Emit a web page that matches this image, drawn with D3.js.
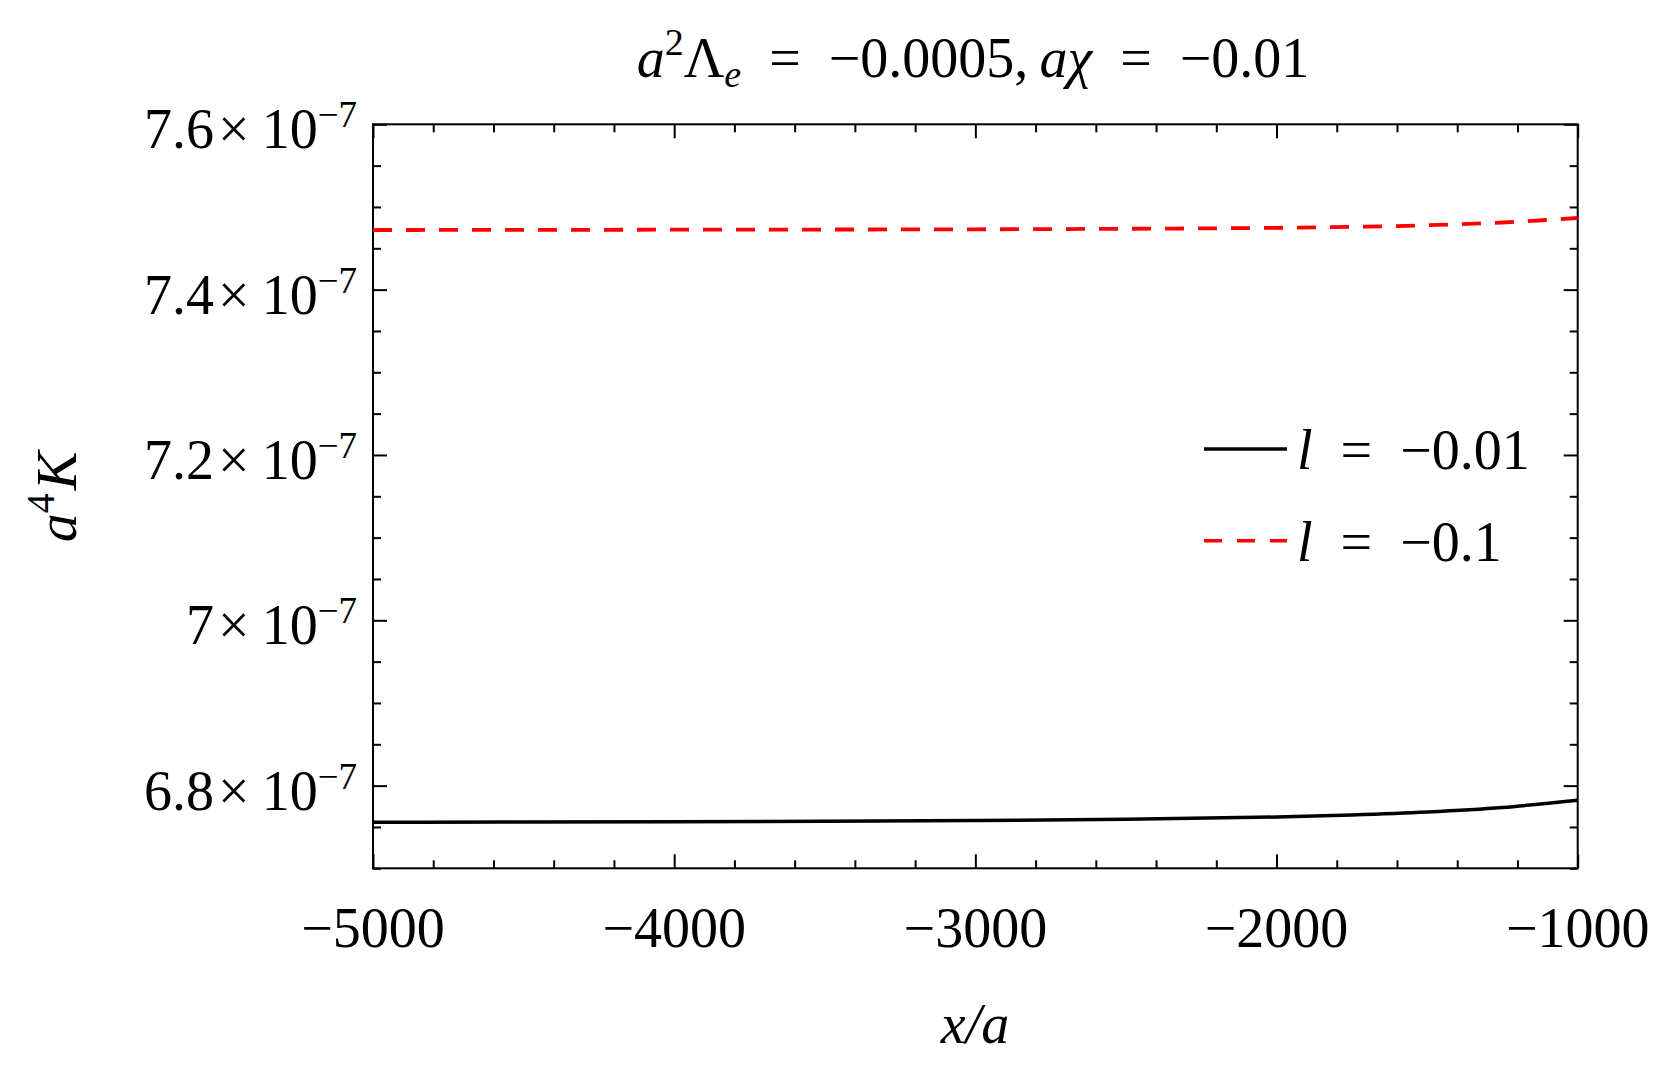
<!DOCTYPE html>
<html>
<head>
<meta charset="utf-8">
<script src="https://cdn.jsdelivr.net/npm/d3@7"></script>
<style>
  html, body { margin: 0; padding: 0; background: #fff; }
  text { font-family: "Liberation Serif", "Times New Roman", serif; fill: #000; }
  .it { font-style: italic; }
</style>
</head>
<body>
<svg id="chart" width="1661" height="1080"></svg>
<script>
// x/a sample positions and a^4 K values
const xValues = [-5000, -4500, -4000, -3500, -3000, -2500, -2000, -1750, -1500, -1250, -1000];
const kSmallL = [6.7557e-7, 6.7560e-7, 6.7564e-7, 6.7569e-7, 6.7577e-7, 6.7592e-7, 6.7620e-7, 6.7645e-7, 6.7681e-7, 6.7736e-7, 6.7824e-7];
const kLargeL = [7.4721e-7, 7.4723e-7, 7.4725e-7, 7.4727e-7, 7.4730e-7, 7.4736e-7, 7.4748e-7, 7.4759e-7, 7.4779e-7, 7.4812e-7, 7.4867e-7];

const seriesNames = ["\u22120.01", "\u22120.1"];
const xTicks = [-5000, -4000, -3000, -2000, -1000];
const yTicks = [7.6e-7, 7.4e-7, 7.2e-7, 7.0e-7, 6.8e-7];
const yTickMantissa = ["7.6", "7.4", "7.2", "7", "6.8"];

const svg = d3.select("#chart"),
      mLeft = 373, mRight = 1577.7, mTop = 124.3, mBottom = 868.3;

const x = d3.scaleLinear().domain([-5000, -1000]).range([mLeft, mRight]);
const y = d3.scaleLinear().domain([6.7e-7, 7.6e-7]).range([mBottom, mTop]);

const xMinor = d3.range(-5000, -999, 200).filter(v => !xTicks.includes(v));
const yMinor = d3.range(0, 19).map(i => 6.7e-7 + i * 0.05e-7)
  .filter(v => !yTicks.some(t => Math.abs(t - v) < 1e-10));

function tickGroup(axis, tr) {
  const g = svg.append("g").attr("transform", tr).call(axis);
  g.select(".domain").remove();
  g.selectAll(".tick line").attr("stroke", "#000").attr("stroke-width", 2);
  g.selectAll(".tick text").remove();
  return g;
}

// inward ticks on all four sides
tickGroup(d3.axisBottom(x).tickValues(xTicks).tickSize(-14), `translate(0,${mBottom})`);
tickGroup(d3.axisBottom(x).tickValues(xMinor).tickSize(-8), `translate(0,${mBottom})`);
tickGroup(d3.axisTop(x).tickValues(xTicks).tickSize(-14), `translate(0,${mTop})`);
tickGroup(d3.axisTop(x).tickValues(xMinor).tickSize(-8), `translate(0,${mTop})`);
tickGroup(d3.axisLeft(y).tickValues(yTicks).tickSize(-14), `translate(${mLeft},0)`);
tickGroup(d3.axisLeft(y).tickValues(yMinor).tickSize(-8), `translate(${mLeft},0)`);
tickGroup(d3.axisRight(y).tickValues(yTicks).tickSize(-14), `translate(${mRight},0)`);
tickGroup(d3.axisRight(y).tickValues(yMinor).tickSize(-8), `translate(${mRight},0)`);

svg.append("rect")
  .attr("x", mLeft).attr("y", mTop)
  .attr("width", mRight - mLeft).attr("height", mBottom - mTop)
  .attr("fill", "none").attr("stroke", "#000").attr("stroke-width", 2);

// x tick labels
svg.selectAll(".xlab")
  .data(xTicks)
  .enter()
  .append("text")
  .attr("class", "xlab")
  .attr("x", d => x(d))
  .attr("y", 947)
  .attr("text-anchor", "middle")
  .attr("font-size", 56)
  .text(d => d3.format("d")(d).replace("-", "\u2212"));

// y tick labels  m×10^-7
const ylab = svg.selectAll(".ylab")
  .data(yTicks)
  .enter()
  .append("text")
  .attr("class", "ylab")
  .attr("x", 357)
  .attr("y", d => y(d) + 24)
  .attr("text-anchor", "end")
  .attr("font-size", 56);
ylab.append("tspan").text((d, i) => yTickMantissa[i]);
ylab.append("tspan").attr("dx", 4).text("\u00d7");
ylab.append("tspan").attr("dx", 12).text("10");
ylab.append("tspan").attr("dy", -21).attr("font-size", 37).text("\u22127");

// curves
const line = d3.line()
  .x(d => x(d[0]))
  .y(d => y(d[1]))
  .curve(d3.curveMonotoneX);

svg.append("path")
  .datum(xValues.map((v, i) => [v, kSmallL[i]]))
  .attr("d", line)
  .attr("fill", "none")
  .attr("stroke", "#000")
  .attr("stroke-width", 3.5);

svg.append("path")
  .datum(xValues.map((v, i) => [v, kLargeL[i]]))
  .attr("d", line)
  .attr("fill", "none")
  .attr("stroke", "#ff0000")
  .attr("stroke-width", 3.8)
  .attr("stroke-dasharray", "19,14");

// legend
const legend = svg.append("g");
const styles = [{ color: "#000", dash: null }, { color: "#ff0000", dash: "18,15" }];
seriesNames.forEach((name, i) => {
  const ly = 449 + i * 91.7;
  legend.append("line")
    .attr("x1", 1204).attr("x2", 1287)
    .attr("y1", ly).attr("y2", ly)
    .attr("stroke", styles[i].color)
    .attr("stroke-width", 3.6)
    .attr("stroke-dasharray", styles[i].dash);
  const t = legend.append("text")
    .attr("x", 1297)
    .attr("y", ly + 20)
    .attr("font-size", 56);
  t.append("tspan").attr("class", "it").text("l");
  t.append("tspan").text("\u2002=\u2002" + name);
});

// title
const title = svg.append("text")
  .attr("x", 973)
  .attr("y", 77)
  .attr("text-anchor", "middle")
  .attr("font-size", 56);
title.append("tspan").attr("class", "it").text("a");
title.append("tspan").attr("dy", -22).attr("font-size", 38).text("2");
title.append("tspan").attr("dy", 22).text("\u039b");
title.append("tspan").attr("class", "it").attr("dy", 10).attr("font-size", 38).text("e");
title.append("tspan").attr("dy", -10).text("\u2002=\u2002\u22120.0005,\u2009");
title.append("tspan").attr("class", "it").text("a\u03c7");
title.append("tspan").text("\u2002=\u2002\u22120.01");

// axis titles
svg.append("text")
  .attr("x", 975)
  .attr("y", 1043)
  .attr("text-anchor", "middle")
  .attr("font-size", 56)
  .attr("class", "it")
  .text("x/a");

const yt = svg.append("text")
  .attr("transform", "translate(76,497) rotate(-90)")
  .attr("text-anchor", "middle")
  .attr("font-size", 58);
yt.append("tspan").attr("class", "it").text("a");
yt.append("tspan").attr("dy", -22).attr("font-size", 40).text("4");
yt.append("tspan").attr("dy", 22).attr("dx", 3).attr("class", "it").text("K");
</script>
</body>
</html>
